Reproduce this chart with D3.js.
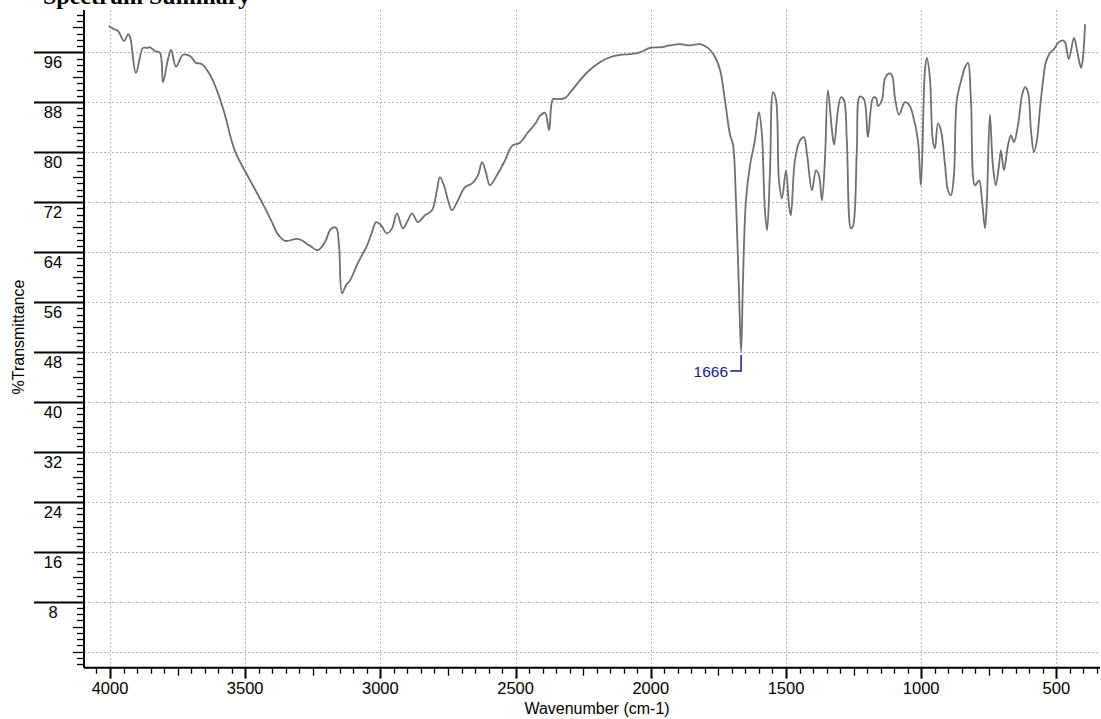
<!DOCTYPE html>
<html>
<head>
<meta charset="utf-8">
<script src="https://cdn.jsdelivr.net/npm/d3@7"></script>
<style>
  html, body { margin: 0; padding: 0; background: #fff; }
  svg { display: block; }
</style>
</head>
<body>
<svg id="chart" width="1101" height="719"></svg>
<script>
// IR spectrum: wavenumber (cm-1) and %Transmittance
const wavenumbers = [
  4005, 3981, 3970, 3948, 3933, 3926, 3904, 3878, 3863, 3852, 3834, 3815, 3804, 3786, 3774, 3756,
  3730, 3704, 3682, 3660, 3630, 3601, 3575, 3538, 3482, 3438, 3401, 3380, 3353, 3305, 3260, 3231,
  3205, 3183, 3164, 3153, 3142, 3127, 3112, 3087, 3068, 3050, 3031, 3016, 2998, 2976, 2957, 2939,
  2917, 2898, 2883, 2861, 2835, 2809, 2791, 2780, 2765, 2750, 2735, 2713, 2687, 2661, 2639, 2624,
  2610, 2595, 2569, 2539, 2513, 2484, 2454, 2428, 2410, 2391, 2376, 2362, 2347, 2317, 2292, 2262,
  2225, 2188, 2151, 2114, 2077, 2040, 2003, 1966, 1929, 1892, 1855, 1818, 1789, 1767, 1744, 1726,
  1707, 1696, 1685, 1674, 1666, 1659, 1648, 1633, 1615, 1600, 1589, 1578, 1570, 1559, 1548, 1537,
  1526, 1515, 1500, 1489, 1482, 1467, 1448, 1434, 1422, 1404, 1389, 1378, 1367, 1356, 1345, 1330,
  1322, 1308, 1297, 1286, 1275, 1260, 1252, 1238, 1227, 1211, 1197, 1178, 1167, 1160, 1145, 1134,
  1119, 1108, 1097, 1082, 1060, 1042, 1031, 1012, 1001, 986, 979, 968, 957, 949, 938, 927,
  912, 901, 890, 879, 868, 849, 838, 827, 816, 801, 786, 775, 764, 757, 746, 735,
  724, 712, 705, 694, 679, 668, 657, 642, 627, 616, 605, 594, 583, 572, 561, 550,
  539, 524, 509, 494, 476, 468, 454, 435, 424, 409, 402, 394
];
const transmittance = [
  100.2, 99.6, 99.4, 97.8, 98.9, 98.5, 92.7, 96.7, 96.7, 96.8, 96.2, 95.9, 91.2, 94.8, 96.4, 93.7,
  95.6, 95.4, 94.3, 94.1, 92.4, 89.5, 86.0, 80.2, 75.5, 72.0, 68.8, 66.9, 65.8, 66.1, 65.0, 64.3,
  65.6, 67.7, 67.9, 65.1, 57.4, 58.7, 59.5, 61.9, 63.5, 65.0, 67.2, 68.8, 68.3, 67.0, 67.8, 70.2,
  67.8, 69.1, 70.2, 68.8, 69.9, 70.7, 73.9, 76.0, 74.7, 72.3, 70.7, 72.3, 74.4, 75.0, 76.3, 78.4,
  76.8, 74.7, 76.3, 78.7, 81.0, 81.5, 83.2, 84.5, 85.8, 86.3, 83.5, 88.5, 88.5, 88.7, 89.9, 91.5,
  93.2, 94.4, 95.2, 95.6, 95.7, 96.0, 96.7, 96.8, 97.1, 97.3, 97.1, 97.3, 96.7, 95.6, 93.2, 88.4,
  82.8, 81.2, 72.3, 57.9, 48.0, 59.5, 72.3, 77.9, 81.9, 86.4, 82.8, 70.7, 67.5, 77.1, 89.6, 88.4,
  75.5, 72.6, 77.1, 71.5, 69.9, 78.7, 81.9, 82.4, 79.6, 73.9, 77.1, 76.3, 72.3, 78.7, 89.9, 83.5,
  81.2, 86.7, 88.8, 88.4, 81.9, 67.8, 68.2, 80.3, 88.9, 88.4, 82.4, 88.7, 88.7, 87.4, 88.4, 91.8,
  92.6, 92.3, 88.7, 86.0, 88.0, 87.4, 86.0, 81.9, 74.7, 93.2, 95.1, 92.0, 81.9, 80.6, 84.6, 83.5,
  78.0, 73.9, 73.1, 76.3, 88.4, 92.0, 93.6, 94.3, 88.4, 74.7, 75.5, 72.3, 67.8, 72.3, 86.0, 78.0,
  74.7, 78.0, 80.3, 77.1, 81.1, 82.7, 81.6, 84.3, 89.1, 90.4, 89.6, 83.5, 80.0, 81.9, 86.8, 91.2,
  94.4, 95.9, 96.5, 97.5, 97.9, 97.6, 94.9, 98.3, 96.4, 93.5, 95.1, 100.5
];

// Axis ticks and peak annotation
const xTickLabels = [4000, 3500, 3000, 2500, 2000, 1500, 1000, 500];
const yTickLabels = [8, 16, 24, 32, 40, 48, 56, 64, 72, 80, 88, 96];
const peakWavenumbers = [1666];
const peakValues = [48.0];

const svg = d3.select("#chart");
const plotLeft = 84, plotRight = 1100, plotTop = 10, plotBottom = 667.7;

const x = d3.scaleLinear().domain([4096.1, 338.7]).range([plotLeft, plotRight]);
const y = d3.scaleLinear().domain([-2.56, 102.77]).range([plotBottom, plotTop]);

const font = "'Liberation Sans', Arial, sans-serif";

// Title (partly above the page edge)
svg.append("text")
  .attr("x", 43).attr("y", 4)
  .attr("font-family", "'Liberation Serif', 'Times New Roman', serif")
  .attr("font-weight", "bold").attr("font-size", 24)
  .text("Spectrum Summary");

// Dotted grid
const grid = svg.append("g").attr("stroke", "#b4b4b4").attr("stroke-width", 1)
  .attr("stroke-dasharray", "2,2");
grid.selectAll("line.v").data(xTickLabels).join("line").attr("class", "v")
  .attr("x1", d => Math.round(x(d)) + 0.5).attr("x2", d => Math.round(x(d)) + 0.5)
  .attr("y1", plotTop).attr("y2", plotBottom);
grid.selectAll("line.h").data([0].concat(yTickLabels)).join("line").attr("class", "h")
  .attr("y1", d => Math.round(y(d)) + 0.5).attr("y2", d => Math.round(y(d)) + 0.5)
  .attr("x1", plotLeft).attr("x2", plotRight);

// Y axis: minor ticks every 1, medium every 4, long rule every 8
const yAxis = svg.append("g").attr("stroke", "#000");
const yMinor = d3.range(-2, 103);
yAxis.selectAll("line").data(yMinor).join("line")
  .attr("x1", d => d % 8 === 0 && d > 0 ? 34 : (d % 4 === 0 ? plotLeft - 11 : plotLeft - 7))
  .attr("x2", plotLeft)
  .attr("y1", d => Math.round(y(d)) + 0.5).attr("y2", d => Math.round(y(d)) + 0.5)
  .attr("stroke-width", d => d % 8 === 0 && d > 0 ? 2 : 1.3);
svg.append("line").attr("x1", plotLeft).attr("x2", plotLeft).attr("y1", plotTop).attr("y2", plotBottom)
  .attr("stroke", "#000").attr("stroke-width", 2);
svg.append("g").selectAll("text").data(yTickLabels).join("text")
  .attr("x", 53).attr("y", d => y(d) + 16)
  .attr("text-anchor", "middle").attr("font-family", font).attr("font-size", 16.5)
  .text(d => d);

// X axis: minor every 50, medium every 250, major every 500
const xAxis = svg.append("g").attr("stroke", "#000");
const xMinor = d3.range(350, 4100, 50);
xAxis.selectAll("line").data(xMinor).join("line")
  .attr("x1", d => Math.round(x(d)) + 0.5).attr("x2", d => Math.round(x(d)) + 0.5)
  .attr("y1", plotBottom)
  .attr("y2", d => plotBottom + (d % 500 === 0 ? 11 : (d % 250 === 0 ? 8 : 6)))
  .attr("stroke-width", d => d % 500 === 0 ? 2 : 1.3);
svg.append("line").attr("x1", plotLeft).attr("x2", plotRight).attr("y1", plotBottom).attr("y2", plotBottom)
  .attr("stroke", "#000").attr("stroke-width", 2);
svg.append("g").selectAll("text").data(xTickLabels).join("text")
  .attr("x", d => x(d)).attr("y", 693.5)
  .attr("text-anchor", "middle").attr("font-family", font).attr("font-size", 16.5)
  .text(d => d);

// Axis titles
svg.append("text").attr("x", 597).attr("y", 714)
  .attr("text-anchor", "middle").attr("font-family", font).attr("font-size", 16)
  .text("Wavenumber (cm-1)");
svg.append("text").attr("transform", "translate(24,337) rotate(-90)")
  .attr("text-anchor", "middle").attr("font-family", font).attr("font-size", 16)
  .text("%Transmittance");

// Spectrum trace
const pts = wavenumbers.map((w, i) => [w, transmittance[i]]);
const line = d3.line().x(d => x(d[0])).y(d => y(d[1])).curve(d3.curveCatmullRom.alpha(0.5));
svg.append("path").datum(pts)
  .attr("d", line).attr("fill", "none")
  .attr("stroke", "#6f6f6f").attr("stroke-width", 1.8).attr("stroke-linejoin", "round");

// Peak marker
const peaks = svg.append("g");
peakWavenumbers.forEach((w, i) => {
  const px = x(w), py = y(peakValues[i]);
  peaks.append("path")
    .attr("d", `M${px - 11},${py + 19}H${px}V${py + 3}`)
    .attr("fill", "none").attr("stroke", "#1c1c8a").attr("stroke-width", 1.5);
  peaks.append("text").attr("x", px - 13).attr("y", py + 25)
    .attr("text-anchor", "end").attr("font-family", font).attr("font-size", 15.5)
    .attr("fill", "#1c1c8a").text(w);
});
</script>
</body>
</html>
